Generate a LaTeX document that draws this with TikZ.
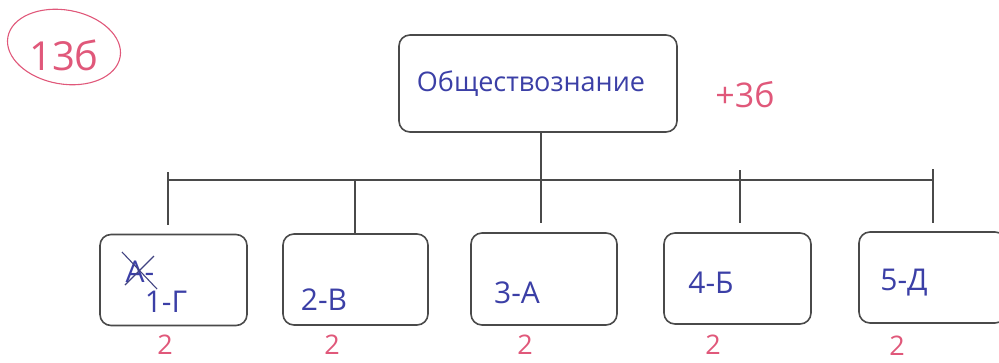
\documentclass[tikz,border=0pt]{standalone}
\usepackage{fontspec}
\setmainfont{Open Sans}
\definecolor{ink}{HTML}{3B3FA6}
\definecolor{redink}{HTML}{E0587A}
\definecolor{frame}{HTML}{4A4A4A}
\tikzset{
  box/.style={draw=frame, line width=1.6pt, rounded corners=11pt, inner sep=0pt},
  link/.style={draw=frame, line width=1.3pt},
  pen/.style={text=ink, inner sep=0pt, font=\fontsize{30}{34}\selectfont},
  redpen/.style={text=redink, inner sep=0pt, font=\fontsize{27}{30}\selectfont},
}
\begin{document}
\begin{tikzpicture}[x=1pt,y=-1pt]
\useasboundingbox (0,0) rectangle (999,362);
% score ellipse
\draw[draw=redink, line width=1.1pt, rotate around={-10:(64,47)}] (64,47) ellipse [x radius=57, y radius=37];
\node[redpen, font=\fontsize{40}{44}\selectfont] (score) at (64,55) {13б};
% top box
\node[box, minimum width=278pt, minimum height=97pt] (top) at (538,83.5) {};
\node[pen, font=\fontsize{27}{30}\selectfont] (toptext) at (531,84) {Обществознание};
\node[redpen, font=\fontsize{34}{38}\selectfont] (plus) at (745,95) {+3б};
% bottom boxes
\node[box, minimum width=147pt, minimum height=91pt] (b1) at (173.5,280) {};
\node[box, minimum width=145pt, minimum height=91pt] (b2) at (355.5,279.5) {};
\node[box, minimum width=146pt, minimum height=92pt] (b3) at (544,279) {};
\node[box, minimum width=147pt, minimum height=91pt] (b4) at (737.5,278.5) {};
\node[box, minimum width=147pt, minimum height=91pt] (b5) at (932.5,277.5) {};
% bracket
\coordinate (bl) at (168,180);
\coordinate (br) at (933,180);
\coordinate (bltop) at (168,172);
\coordinate (brtop) at (933,169);
\coordinate (t1) at (168,225);
\coordinate (t5) at (933,223);
\coordinate (j2) at (355,180);
\coordinate (j3) at (541,223);
\coordinate (j4top) at (740,170);
\coordinate (j4) at (740,223);
\draw[link] (bl) -- (br);
\draw[link] (bltop) -- (t1);
\draw[link] (brtop) -- (t5);
\draw[link] (j2) -- (j2 |- b2.north);
\draw[link] (top.south -| j3) -- (j3);
\draw[link] (j4top) -- (j4);
% box texts
\node[pen] (crossA) at (140,272) {А-};
\coordinate (xa) at (122,252);
\coordinate (xb) at (157,289);
\coordinate (xc) at (154,256);
\coordinate (xd) at (125,285);
\draw[ink!60!frame, line width=1.1pt] (xa) -- (xb);
\draw[ink!60!frame, line width=1.1pt] (xc) -- (xd);
\node[pen] (t1txt) at (166,302) {1-Г};
\node[pen] (t2txt) at (324,300) {2-В};
\node[pen] (t3txt) at (517,293) {3-А};
\node[pen] (t4txt) at (711,283) {4-Б};
\node[pen] (t5txt) at (904,283) {5-Д};
% points
\node[redpen] (p1) at (165,345) {2};
\node[redpen] (p2) at (332,345) {2};
\node[redpen] (p3) at (525,345) {2};
\node[redpen] (p4) at (713,345) {2};
\node[redpen] (p5) at (897,346) {2};
\end{tikzpicture}
\end{document}
